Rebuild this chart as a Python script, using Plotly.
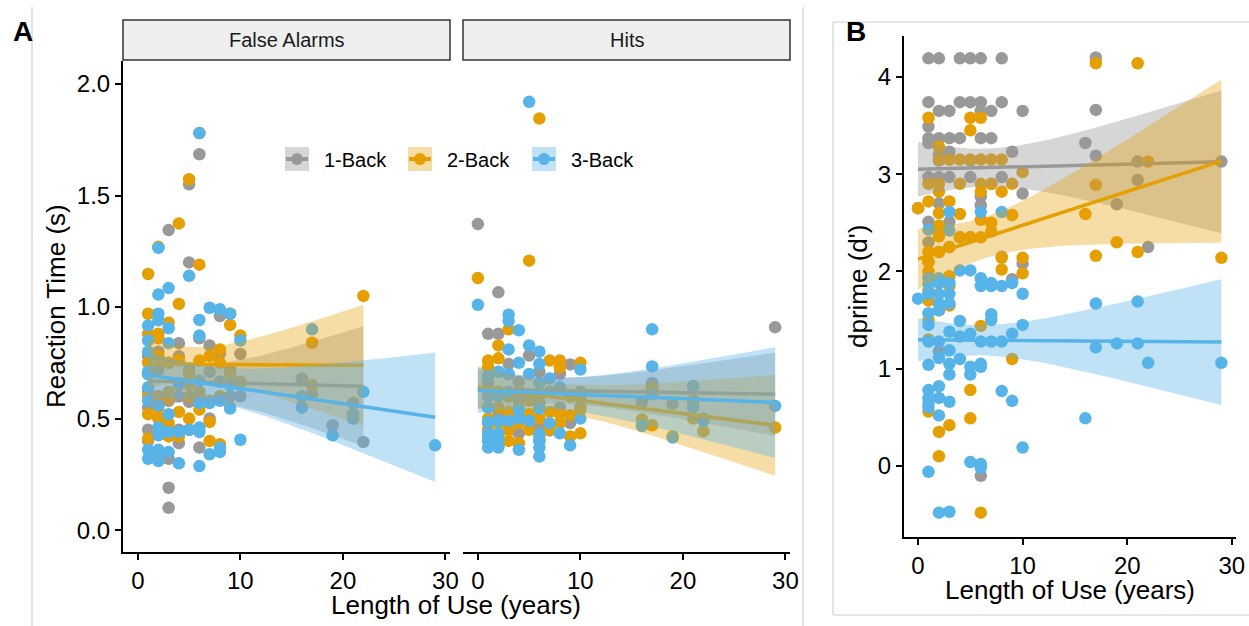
import numpy as np
import plotly.graph_objects as go

W, H = 1249, 626
GROUPS = ["1-Back", "2-Back", "3-Back"]
COLORS = ["#999999", "#E69F00", "#56B4E9"]
FILLS = ["rgba(153,153,153,0.4)", "rgba(230,159,0,0.35)", "rgba(86,180,233,0.38)"]

# ---------------- Panel A: reaction time, False Alarms ----------------
fa_1back_x = [1, 1, 1, 1, 1, 1, 2, 2, 2, 2, 2, 2, 3, 3, 3, 3, 3, 3, 4, 4, 4, 4, 4,
              5, 5, 5, 5, 5, 6, 6, 6, 6, 7, 7, 7, 8, 8, 8, 9, 9, 10, 10, 10,
              16, 17, 17, 19, 21, 22]
fa_1back_y = [0.78, 0.70, 0.62, 0.55, 0.45, 0.40, 0.80, 0.72, 0.60, 0.45, 0.35, 0.50,
              1.345, 0.75, 0.58, 0.32, 0.19, 0.10,
              0.838, 0.78, 0.60, 0.39, 0.45,
              1.55, 1.20, 0.72, 0.575, 0.45,
              1.685, 0.86, 0.60, 0.37,
              0.828, 0.71, 0.50,
              0.96, 0.79, 0.665, 0.72, 0.60, 0.79, 0.665, 0.60,
              0.68, 0.65, 0.61, 0.47, 0.57, 0.395]

fa_2back_x = [1, 1, 1, 1, 1, 1, 1, 1, 2, 2, 2, 2, 2, 2, 2, 2, 3, 3, 3, 3, 3, 3, 4, 4, 4, 4, 4, 4,
              5, 5, 5, 5, 5, 6, 6, 6, 6, 6, 7, 7, 7, 7, 8, 8, 8, 8, 9, 9, 9, 9, 10, 10,
              16, 17, 17, 21, 22]
fa_2back_y = [1.148, 0.97, 0.88, 0.75, 0.70, 0.41, 0.60, 0.52,
              1.27, 0.88, 0.78, 0.60, 0.505, 0.86, 0.45, 0.55,
              0.93, 0.75, 0.59, 0.42, 0.62, 0.48,
              1.375, 1.014, 0.76, 0.53, 0.42, 0.65,
              1.573, 0.70, 0.60, 0.50, 0.65,
              1.78, 1.19, 0.76, 0.54, 0.62,
              0.78, 0.485, 0.40, 0.58,
              0.81, 0.75, 0.385, 0.60,
              0.97, 0.92, 0.70, 0.55,
              0.872, 0.66,
              0.55, 0.84, 0.65, 0.50, 1.05]

fa_3back_x = [1, 1, 1, 1, 1, 1, 1, 1, 1, 2, 2, 2, 2, 2, 2, 2, 2, 2, 3, 3, 3, 3, 3, 3, 4, 4, 4,
              5, 5, 6, 6, 6, 6, 6, 6, 6, 6, 7, 7, 7, 8, 8, 8, 8, 9, 9, 9, 10, 10,
              16, 16, 17, 19, 21, 21, 22, 29]
fa_3back_y = [0.917, 0.85, 0.80, 0.71, 0.64, 0.58, 0.36, 0.32, 0.70,
              1.265, 1.056, 0.97, 0.94, 0.56, 0.46, 0.425, 0.36, 0.31,
              1.085, 0.905, 0.838, 0.52, 0.44, 0.35,
              0.44, 0.30, 0.66,
              1.14, 0.45,
              1.78, 0.942, 0.872, 0.67, 0.57, 0.46, 0.44, 0.287,
              0.997, 0.57, 0.34,
              0.99, 0.58, 0.37, 0.35,
              0.97, 0.65, 0.545,
              0.85, 0.405,
              0.60, 0.55, 0.90, 0.425, 0.52, 0.50, 0.62, 0.38]

# ---------------- Panel A: reaction time, Hits ----------------
hit_1back_x = [0, 1, 1, 1, 1, 1, 2, 2, 2, 2, 2, 3, 3, 3, 3, 4, 4, 4, 5, 5, 5, 6, 6, 6, 6,
               7, 7, 8, 8, 9, 9, 10, 10, 16, 17, 17, 17, 19, 21, 21, 22, 29]
hit_1back_y = [1.372, 0.88, 0.66, 0.55, 0.48, 0.42, 1.066, 0.88, 0.62, 0.52, 0.40,
               0.745, 0.60, 0.50, 0.45, 0.664, 0.434, 0.58, 0.783, 0.60, 0.52,
               0.71, 0.462, 0.57, 0.40, 0.447, 0.62, 0.70, 0.55, 0.743, 0.48, 0.62, 0.55,
               0.575, 0.66, 0.61, 0.64, 0.567, 0.645, 0.58, 0.50, 0.91]

hit_2back_x = [0, 1, 1, 1, 1, 1, 1, 1, 2, 2, 2, 2, 2, 2, 2, 3, 3, 3, 3, 3, 4, 4, 4, 4,
               5, 5, 5, 5, 6, 6, 6, 6, 6, 7, 7, 7, 8, 8, 8, 8, 9, 9, 9, 10, 10, 10, 10,
               16, 17, 17, 17, 19, 21, 21, 22, 29]
hit_2back_y = [1.13, 0.76, 0.73, 0.55, 0.50, 0.40, 0.45, 0.62,
               0.828, 0.77, 0.55, 0.38, 0.48, 0.62, 0.42,
               0.90, 0.60, 0.53, 0.45, 0.40,
               0.62, 0.39, 0.55, 0.48,
               1.208, 0.58, 0.52, 0.45,
               1.845, 0.60, 0.55, 0.42, 0.50,
               0.76, 0.53, 0.45,
               0.76, 0.73, 0.52, 0.48,
               0.515, 0.42, 0.60,
               0.75, 0.54, 0.434, 0.60,
               0.496, 0.47, 0.62, 0.64, 0.42, 0.50, 0.58, 0.443, 0.46]

hit_3back_x = [0, 1, 1, 1, 1, 1, 1, 1, 2, 2, 2, 2, 2, 2, 3, 3, 3, 3, 3, 3, 4, 4, 4, 4, 4,
               5, 5, 5, 5, 6, 6, 6, 6, 6, 6, 6, 6, 7, 7, 8, 8, 9, 10, 10,
               16, 17, 17, 17, 19, 21, 21, 22, 29]
hit_3back_y = [1.01, 0.69, 0.60, 0.55, 0.485, 0.434, 0.40, 0.37,
               0.71, 0.60, 0.49, 0.434, 0.40, 0.37,
               0.966, 0.937, 0.81, 0.70, 0.62, 0.49,
               0.896, 0.75, 0.54, 0.50, 0.36,
               1.92, 0.828, 0.70, 0.49,
               0.80, 0.745, 0.66, 0.545, 0.43, 0.40, 0.37, 0.33,
               0.68, 0.48, 0.64, 0.434, 0.38, 0.72, 0.50,
               0.467, 0.90, 0.734, 0.61, 0.415, 0.55, 0.645, 0.49, 0.557]

# ---------------- Panel B: dprime ----------------
dp_1back_x = [0, 1, 1, 1, 1, 1, 1, 1, 1, 1, 2, 2, 2, 2, 2, 2, 2, 2, 2, 2,
              3, 3, 3, 3, 3, 3, 3, 4, 4, 4, 4, 5, 5, 5, 5, 5, 6, 6, 6, 6, 6, 6, 6,
              7, 7, 7, 8, 8, 8, 8, 9, 9, 10, 10, 10,
              16, 17, 17, 17, 19, 21, 21, 22, 29]
dp_1back_y = [2.65, 4.19, 3.74, 3.49, 3.37, 3.32, 2.97, 2.51, 2.30, 2.10,
              4.19, 3.65, 3.37, 3.20, 3.14, 2.97, 2.70, 1.18, 2.40, 2.20,
              3.65, 3.37, 3.23, 3.15, 2.97, 2.51, 2.25,
              4.19, 3.74, 3.37, 2.35,
              4.19, 3.74, 3.14, 2.97, 2.35,
              4.19, 3.74, 3.65, 3.37, 2.77, 2.68, -0.10,
              3.65, 3.37, 2.90,
              4.19, 3.74, 2.97, 2.15,
              3.23, 1.92,
              3.65, 2.80, 2.08,
              3.32, 4.20, 3.66, 3.19, 2.69, 3.13, 2.94, 2.25, 3.13]

dp_2back_x = [0, 1, 1, 1, 1, 1, 1, 1, 1, 1, 1, 1, 2, 2, 2, 2, 2, 2, 2, 2, 2, 2, 2,
              3, 3, 3, 3, 3, 3, 3, 4, 4, 4, 4, 5, 5, 5, 5, 5, 5, 6, 6, 6, 6, 6, 6, 6, 6,
              7, 7, 7, 7, 8, 8, 8, 8, 9, 9, 9, 10, 10, 10,
              16, 17, 17, 17, 19, 21, 21, 22, 29]
dp_2back_y = [2.65, 3.58, 2.90, 2.72, 2.20, 2.10, 2.00, 1.80, 1.70, 1.50, 0.56, 1.30,
              3.28, 3.15, 2.90, 2.82, 2.60, 2.47, 2.36, 2.20, 0.35, 0.10, 1.60,
              3.15, 2.72, 2.25, 1.95, 1.65, 0.42, 1.85,
              3.15, 2.90, 2.59, 2.35,
              3.58, 3.45, 3.15, 2.35, 0.78, 0.49,
              3.58, 3.15, 2.90, 2.82, 2.53, 2.35, 1.44, -0.48,
              3.15, 2.90, 2.50, 2.41,
              3.15, 2.82, 2.14, 2.02,
              2.90, 2.58, 1.10,
              3.02, 2.14, 1.98,
              2.59, 4.14, 2.89, 2.16, 2.30, 4.14, 2.20, 3.13, 2.14]

dp_3back_x = [0, 1, 1, 1, 1, 1, 1, 1, 1, 1, 1, 1, 1, 1,
              2, 2, 2, 2, 2, 2, 2, 2, 2, 2, 2,
              3, 3, 3, 3, 3, 3, 3, 3, 3, 3, 3,
              4, 4, 4, 4, 5, 5, 5, 5, 5, 6, 6, 6, 6, 6, 6, 6, 6,
              7, 7, 7, 7, 7, 8, 8, 8, 8, 9, 9, 9, 10, 10, 10,
              16, 17, 17, 19, 21, 21, 22, 29]
dp_3back_y = [1.72, 2.43, 1.87, 1.77, 1.57, 1.45, 1.28, 1.04, 0.78, 0.70, 0.64, 0.60, -0.06, 1.93,
              1.93, 1.77, 1.67, 1.60, 1.28, 1.11, 0.82, 0.70, 0.52, -0.48, 1.88,
              2.61, 2.42, 1.88, 1.77, 1.67, 1.38, 1.19, 1.05, 0.94, 0.66, -0.47,
              2.01, 1.49, 1.33, 1.10,
              2.01, 1.36, 1.02, 0.94, 0.04,
              2.61, 1.93, 1.85, 1.28, 1.05, 1.02, 0.02, -0.02,
              1.85, 1.56, 1.50, 1.28, 1.88,
              2.61, 1.85, 1.28, 0.77,
              1.88, 1.36, 0.67,
              1.77, 1.45, 0.19,
              0.49, 1.67, 1.22, 1.26, 1.69, 1.26, 1.06, 1.06]

# tick labels
rt_ticks = [0.0, 0.5, 1.0, 1.5, 2.0]
rt_ticktext = ["0.0", "0.5", "1.0", "1.5", "2.0"]
dp_ticks = [0, 1, 2, 3, 4]
year_ticks = [0, 10, 20, 30]

FONT = "Liberation Sans, Arial, sans-serif"


def px(x):
    return x / W


def py(y):
    return 1 - y / H


def t975(df):
    z = 1.959963984540054
    g1 = (z ** 3 + z) / 4
    g2 = (5 * z ** 5 + 16 * z ** 3 + 3 * z) / 96
    g3 = (3 * z ** 7 + 19 * z ** 5 + 17 * z ** 3 - 15 * z) / 384
    return z + g1 / df + g2 / df ** 2 + g3 / df ** 3


def lm_fit(x, y):
    x = np.asarray(x, float)
    y = np.asarray(y, float)
    n = len(x)
    b, a = np.polyfit(x, y, 1)
    resid = y - (a + b * x)
    s = np.sqrt(np.sum(resid ** 2) / (n - 2))
    xm = x.mean()
    sxx = np.sum((x - xm) ** 2)
    g = np.linspace(x.min(), x.max(), 80)
    fit = a + b * g
    se = s * np.sqrt(1 / n + (g - xm) ** 2 / sxx)
    t = t975(n - 2)
    return g, fit, fit - t * se, fit + t * se


fig = go.Figure()

panels = [
    ("x", "y", [(fa_1back_x, fa_1back_y), (fa_2back_x, fa_2back_y), (fa_3back_x, fa_3back_y)]),
    ("x2", "y2", [(hit_1back_x, hit_1back_y), (hit_2back_x, hit_2back_y), (hit_3back_x, hit_3back_y)]),
    ("x3", "y3", [(dp_1back_x, dp_1back_y), (dp_2back_x, dp_2back_y), (dp_3back_x, dp_3back_y)]),
]

for xa, ya, series in panels:
    for i, (xs, ys) in enumerate(series):
        fig.add_trace(go.Scatter(x=xs, y=ys, mode="markers", xaxis=xa, yaxis=ya,
                                 marker=dict(size=12.5, color=COLORS[i], line=dict(width=0)),
                                 showlegend=False, hoverinfo="skip"))
    for i, (xs, ys) in enumerate(series):
        g, fit, lo, hi = lm_fit(xs, ys)
        fig.add_trace(go.Scatter(x=np.concatenate([g, g[::-1]]), y=np.concatenate([hi, lo[::-1]]),
                                 mode="lines", fill="toself", fillcolor=FILLS[i],
                                 line=dict(width=0), xaxis=xa, yaxis=ya,
                                 showlegend=False, hoverinfo="skip"))
        fig.add_trace(go.Scatter(x=g, y=fit, mode="lines", xaxis=xa, yaxis=ya,
                                 line=dict(color=COLORS[i], width=3.5),
                                 showlegend=False, hoverinfo="skip"))

axis_common = dict(showgrid=False, zeroline=False, showline=True, linecolor="black", linewidth=2,
                   ticks="outside", ticklen=6, tickwidth=1.6, tickcolor="black", automargin=False,
                   tickfont=dict(family=FONT, size=24, color="black"))

xrA = [-1.45, 30.45]
fig.update_layout(
    width=W, height=H, autosize=False, margin=dict(l=0, r=0, t=0, b=0, pad=0),
    paper_bgcolor="white", plot_bgcolor="rgba(0,0,0,0)",
    xaxis=dict(domain=[px(123), px(450)], range=xrA, tickvals=year_ticks, anchor="y", **axis_common),
    xaxis2=dict(domain=[px(463), px(790)], range=xrA, tickvals=year_ticks, anchor="y2", **axis_common),
    xaxis3=dict(domain=[px(904), px(1236)], range=[-1.34, 30.4], tickvals=year_ticks, anchor="y3", **axis_common),
    yaxis=dict(domain=[py(552), py(61)], range=[-0.098, 2.103], tickvals=rt_ticks, ticktext=rt_ticktext,
               anchor="x", **axis_common),
    yaxis2=dict(domain=[py(552), py(61)], range=[-0.098, 2.103], anchor="x2", showgrid=False,
                zeroline=False, showline=False, showticklabels=False, ticks="", automargin=False),
    yaxis3=dict(domain=[py(537), py(36)], range=[-0.73, 4.42], tickvals=dp_ticks, anchor="x3", **axis_common),
    showlegend=False,
)

shapes = []
annotations = []

# panel frames
for xline in (32, 803):
    shapes.append(dict(type="line", xref="paper", yref="paper", x0=px(xline), x1=px(xline),
                       y0=py(7), y1=0, line=dict(color="#D0D0D0", width=1.2)))
for (x0, y0, x1, y1) in [(833, 22, 833, 615), (833, 22, 1249, 22), (833, 615, 1249, 615)]:
    shapes.append(dict(type="line", xref="paper", yref="paper", x0=px(x0), x1=px(x1), y0=py(y0), y1=py(y1),
                       line=dict(color="#D0D0D0", width=1.2)))

# facet strips
for (x0, x1, label) in [(123, 450, "False Alarms"), (463, 790, "Hits")]:
    shapes.append(dict(type="rect", xref="paper", yref="paper", x0=px(x0), x1=px(x1), y0=py(60), y1=py(20),
                       line=dict(color="#333333", width=1.5), fillcolor="#EEEEEE", layer="below"))
    annotations.append(dict(text=label, xref="paper", yref="paper", x=px((x0 + x1) / 2), y=py(40),
                            showarrow=False, xanchor="center", yanchor="middle",
                            font=dict(family=FONT, size=20, color="#1A1A1A")))

# legend (inside panel A)
leg_items = [(285, "1-Back"), (408, "2-Back"), (532, "3-Back")]
for i, (kx, lab) in enumerate(leg_items):
    shapes.append(dict(type="rect", xref="paper", yref="paper", x0=px(kx), x1=px(kx + 24), y0=py(171), y1=py(147),
                       line=dict(width=0), fillcolor=FILLS[i]))
    shapes.append(dict(type="line", xref="paper", yref="paper", x0=px(kx + 1), x1=px(kx + 23), y0=py(159), y1=py(159),
                       line=dict(color=COLORS[i], width=4)))
    shapes.append(dict(type="circle", xref="paper", yref="paper", x0=px(kx + 6), x1=px(kx + 18), y0=py(165), y1=py(153),
                       line=dict(width=0), fillcolor=COLORS[i]))
    annotations.append(dict(text=lab, xref="paper", yref="paper", x=px(kx + 37), y=py(160), showarrow=False,
                            xanchor="left", yanchor="middle", font=dict(family=FONT, size=20, color="black")))

# axis titles
annotations += [
    dict(text="Reaction Time (s)", xref="paper", yref="paper", x=px(56), y=py(306), textangle=-90,
         showarrow=False, xanchor="center", yanchor="middle", font=dict(family=FONT, size=26, color="black")),
    dict(text="Length of Use (years)", xref="paper", yref="paper", x=px(456), y=py(605), showarrow=False,
         xanchor="center", yanchor="middle", font=dict(family=FONT, size=26, color="black")),
    dict(text="dprime (d')", xref="paper", yref="paper", x=px(858), y=py(287), textangle=-90,
         showarrow=False, xanchor="center", yanchor="middle", font=dict(family=FONT, size=26, color="black")),
    dict(text="Length of Use (years)", xref="paper", yref="paper", x=px(1070), y=py(590), showarrow=False,
         xanchor="center", yanchor="middle", font=dict(family=FONT, size=26, color="black")),
    dict(text="<b>A</b>", xref="paper", yref="paper", x=px(22.5), y=py(31), showarrow=False,
         xanchor="center", yanchor="middle", font=dict(family=FONT, size=28, color="black")),
    dict(text="<b>B</b>", xref="paper", yref="paper", x=px(856), y=py(31), showarrow=False,
         xanchor="center", yanchor="middle", font=dict(family=FONT, size=28, color="black")),
]

fig.update_layout(shapes=shapes, annotations=annotations)
fig.write_html(
    "out.html",
    config={"responsive": False},
    post_script="document.documentElement.style.overflow='hidden';"
                "document.body.style.overflow='hidden';document.body.style.margin='0';",
)
